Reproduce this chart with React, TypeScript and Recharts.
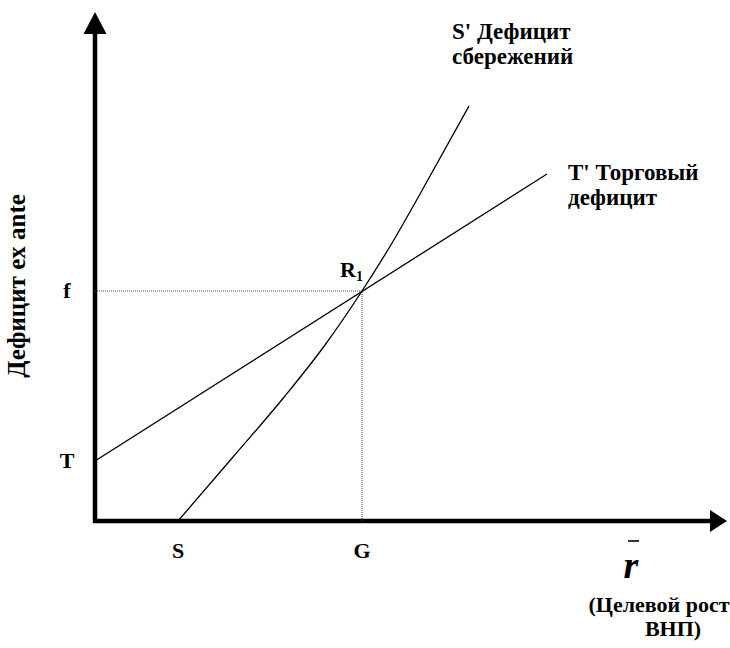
import {
  LineChart,
  Line,
  XAxis,
  YAxis,
  ReferenceLine,
  ReferenceDot,
} from "recharts";

// curve S' (savings deficit)
const S_X = [83, 138, 190, 230, 267, 300, 320, 374];
const S_Y = [0, 64, 125, 176, 230, 283, 318, 415];
// straight line T' (trade deficit)
const T_X = [0, 452];
const T_Y = [60, 347];
// equilibrium R1
const R_X = 267;
const R_Y = 230;

const X_TICKS = [83, 267, 536];
const X_LABELS = ["S", "G", "r"];
const Y_TICKS = [60, 230];
const Y_LABELS = ["T", "f"];

const X_MAX = 632;
const Y_MAX = 510;

const sData = S_X.map((x, i) => ({ x, y: S_Y[i] }));
const tData = T_X.map((x, i) => ({ x, y: T_Y[i] }));

const FONT = "'Liberation Serif', 'Times New Roman', serif";

const XTick = (props: any) => {
  const { x, payload } = props;
  const i = X_TICKS.indexOf(payload.value);
  if (X_LABELS[i] === "r") {
    return (
      <g>
        <line x1={x - 3} x2={x + 8} y1={541} y2={541} stroke="#000" strokeWidth={1.6} />
        <text x={x} y={578} textAnchor="middle" fontFamily={FONT} fontWeight="bold" fontStyle="italic" fontSize={38} fill="#000">
          r
        </text>
      </g>
    );
  }
  return (
    <text x={x} y={558} textAnchor="middle" fontFamily={FONT} fontWeight="bold" fontSize={22} fill="#000">
      {X_LABELS[i]}
    </text>
  );
};

const YTick = (props: any) => {
  const { y, payload } = props;
  const i = Y_TICKS.indexOf(payload.value);
  return (
    <text x={67} y={y + 7} textAnchor="middle" fontFamily={FONT} fontWeight="bold" fontSize={22} fill="#000">
      {Y_LABELS[i]}
    </text>
  );
};

const txt = { fontFamily: FONT, fontWeight: "bold" as const, fontSize: 23, fill: "#000" };

export default function App() {
  return (
    <div style={{ width: 730, height: 648, background: "#fff" }}>
      <style>{"body{margin:0}"}</style>
      <LineChart
        width={730}
        height={648}
        margin={{ top: 11, right: 3, left: 0, bottom: 97 }}
      >
        <XAxis
          type="number"
          dataKey="x"
          domain={[0, X_MAX]}
          ticks={X_TICKS}
          tick={<XTick />}
          axisLine={false}
          tickLine={false}
          height={30}
          allowDataOverflow
          label={{
            content: () => (
              <g>
                <text x={659} y={612} textAnchor="middle" {...txt} fontSize={22}>(Целевой рост</text>
                <text x={673} y={636} textAnchor="middle" {...txt} fontSize={22}>ВНП)</text>
              </g>
            ),
          }}
        />
        <YAxis
          type="number"
          dataKey="y"
          domain={[0, Y_MAX]}
          ticks={Y_TICKS}
          tick={<YTick />}
          axisLine={false}
          tickLine={false}
          width={95}
          allowDataOverflow
          label={{
            content: () => (
              <text transform="translate(25,286) rotate(-90)" textAnchor="middle" {...txt} fontSize={25}>
                Дефицит ex ante
              </text>
            ),
          }}
        />

        {/* axes with arrows */}
        <ReferenceLine
          segment={[{ x: -2, y: 0 }, { x: 616, y: 0 }]}
          stroke="#000"
          strokeWidth={4.5}
          ifOverflow="visible"
        />
        <ReferenceLine
          segment={[{ x: 0, y: -2 }, { x: 0, y: 488 }]}
          stroke="#000"
          strokeWidth={4.5}
          ifOverflow="visible"
        />
        <ReferenceDot
          x={X_MAX}
          y={0}
          r={0}
          ifOverflow="visible"
          shape={(p: any) => (
            <polygon points={`${p.cx},${p.cy} ${p.cx - 17},${p.cy - 11} ${p.cx - 17},${p.cy + 11}`} fill="#000" />
          )}
        />
        <ReferenceDot
          x={0}
          y={Y_MAX}
          r={0}
          ifOverflow="visible"
          shape={(p: any) => (
            <polygon points={`${p.cx},${p.cy + 1} ${p.cx - 11.5},${p.cy + 23} ${p.cx + 11.5},${p.cy + 23}`} fill="#000" />
          )}
        />

        {/* dotted guides to R1 */}
        <ReferenceLine
          segment={[{ x: 0, y: R_Y }, { x: R_X, y: R_Y }]}
          stroke="#444"
          strokeWidth={1}
          strokeDasharray="1 1"
        />
        <ReferenceLine
          segment={[{ x: R_X, y: 0 }, { x: R_X, y: R_Y }]}
          stroke="#444"
          strokeWidth={1}
          strokeDasharray="1 1"
        />

        <Line
          data={tData}
          dataKey="y"
          type="linear"
          stroke="#000"
          strokeWidth={1.3}
          dot={false}
          isAnimationActive={false}
        />
        <Line
          data={sData}
          dataKey="y"
          type="monotone"
          stroke="#000"
          strokeWidth={1.3}
          dot={false}
          isAnimationActive={false}
        />

        <ReferenceDot
          x={R_X}
          y={R_Y}
          r={0}
          shape={(p: any) => (
            <text x={p.cx - 22} y={p.cy - 14} {...txt} fontSize={22}>
              R<tspan fontSize={14} dy={4}>1</tspan>
            </text>
          )}
        />
        <ReferenceDot
          x={S_X[S_X.length - 1]}
          y={S_Y[S_Y.length - 1]}
          r={0}
          ifOverflow="visible"
          shape={(p: any) => (
            <g>
              <text x={p.cx - 17} y={p.cy - 67} {...txt}>S' Дефицит</text>
              <text x={p.cx - 17} y={p.cy - 42} {...txt}>сбережений</text>
            </g>
          )}
        />
        <ReferenceDot
          x={T_X[T_X.length - 1]}
          y={T_Y[T_Y.length - 1]}
          r={0}
          ifOverflow="visible"
          shape={(p: any) => (
            <g>
              <text x={p.cx + 21} y={p.cy + 6} {...txt}>T' Торговый</text>
              <text x={p.cx + 21} y={p.cy + 31} {...txt}>дефицит</text>
            </g>
          )}
        />
      </LineChart>
    </div>
  );
}
